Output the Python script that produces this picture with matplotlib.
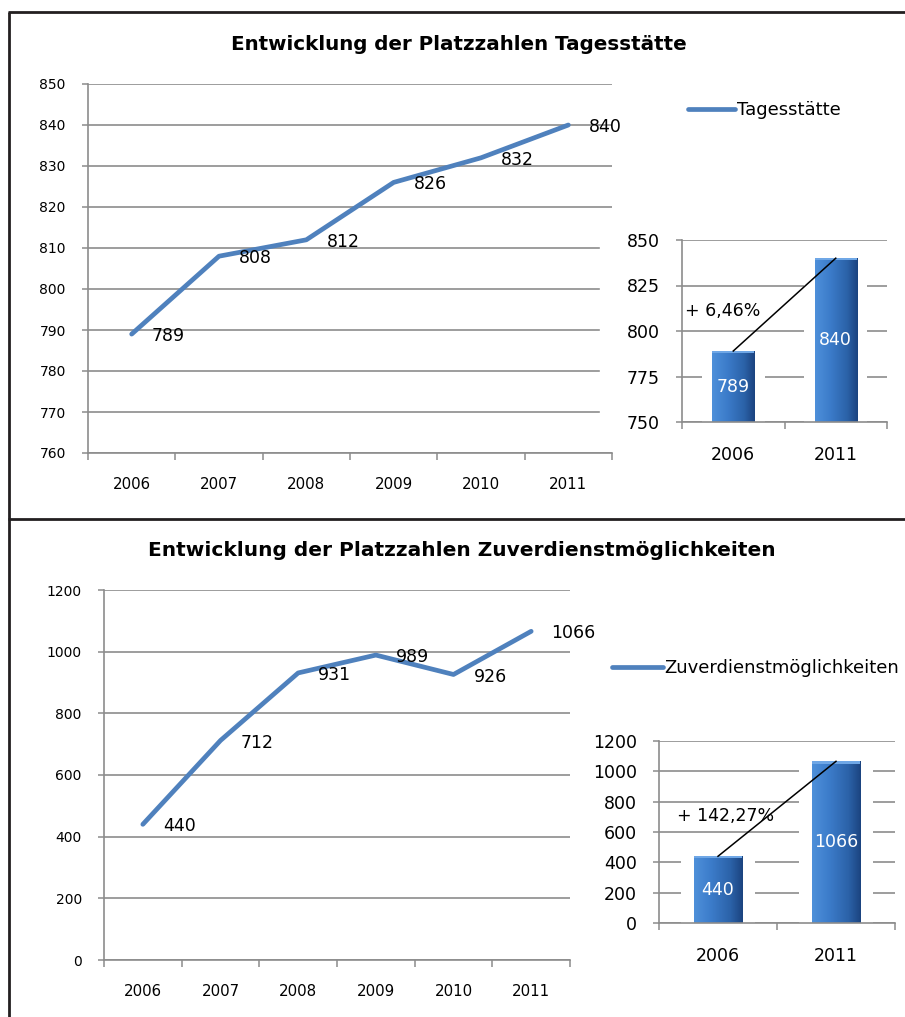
import matplotlib
matplotlib.use("Agg")
import matplotlib.pyplot as plt
import numpy as np
from matplotlib.lines import Line2D
from matplotlib.patches import Rectangle
from matplotlib.colors import LinearSegmentedColormap

# ---------------- data ----------------
years = ["2006", "2007", "2008", "2009", "2010", "2011"]
tages = [789, 808, 812, 826, 832, 840]
zuverdienst = [440, 712, 931, 989, 926, 1066]
bar_years = ["2006", "2011"]
tages_bars = [789, 840]
zuver_bars = [440, 1066]

title_top = "Entwicklung der Platzzahlen Tagesstätte"
title_bottom = "Entwicklung der Platzzahlen Zuverdienstmöglichkeiten"
legend_top = "Tagesstätte"
legend_bottom = "Zuverdienstmöglichkeiten"

W, H = 905, 1017
fig = plt.figure(figsize=(W / 100, H / 100), dpi=100)
plt.rcParams['font.family'] = ['DejaVu Sans']

LINE_C = "#4F81BD"
GRID_C = "#8C8C8C"
bar_cmap = LinearSegmentedColormap.from_list(
    "barg", [(0, "#4E90DA"), (0.35, "#3C7CCA"), (0.75, "#2B62A8"), (1.0, "#1B437F")])


def fax(x0, y_top, x1, y_bot):
    return fig.add_axes([x0 / W, 1 - y_bot / H, (x1 - x0) / W, (y_bot - y_top) / H])


def style_axes(ax, ylo, yhi, step, fs_y, fs_x):
    ax.set_ylim(ylo, yhi)
    ax.set_yticks(np.arange(ylo, yhi + step / 2, step))
    for s in ("top", "right"):
        ax.spines[s].set_visible(False)
    for s in ("left", "bottom"):
        ax.spines[s].set_color(GRID_C)
        ax.spines[s].set_linewidth(1.2)
        ax.spines[s].set_zorder(5)
    ax.yaxis.grid(True, color=GRID_C, linewidth=1.2)
    ax.set_axisbelow(True)
    ax.tick_params(axis="y", length=4, width=1.1, color=GRID_C, pad=12, labelsize=fs_y)
    ax.tick_params(axis="x", which="major", length=0, pad=17, labelsize=fs_x)
    ax.tick_params(axis="x", which="minor", length=5, width=1.1, color=GRID_C)


def line_chart(ax, vals, ylo, yhi, step, legend_label, legend_xy, hlen):
    x = np.arange(len(years))
    ln, = ax.plot(x, vals, color=LINE_C, linewidth=3.4, solid_capstyle="round",
                  solid_joinstyle="round", label=legend_label, zorder=3)
    ax.set_xlim(-0.5, len(years) - 0.5)
    ax.set_xticks(x)
    ax.set_xticklabels(years)
    ax.set_xticks(np.arange(-0.5, len(years), 1.0), minor=True)
    style_axes(ax, ylo, yhi, step, 10, 10.8)
    for xi, v in zip(x, vals):
        ax.annotate(str(v), (xi, v), xytext=(14.5, -1.5), textcoords="offset points",
                    ha="left", va="center", fontsize=12.5, zorder=4,
                    annotation_clip=False)
    fig.legend(handles=[ln], labels=[legend_label], loc="center left",
               bbox_to_anchor=(legend_xy[0] / W, 1 - legend_xy[1] / H),
               frameon=False, borderpad=0, borderaxespad=0, handlelength=hlen,
               handletextpad=0.1, fontsize=13)


def bar_chart(ax, vals, ylo, yhi, step, gap_w):
    x = np.arange(len(bar_years))
    bw = 0.41
    ax.set_xlim(-0.5, len(bar_years) - 0.5)
    ax.set_xticks(x)
    ax.set_xticklabels(bar_years)
    ax.set_xticks(np.arange(-0.5, len(bar_years), 1.0), minor=True)
    style_axes(ax, ylo, yhi, step, 12.5, 12.5)
    # white halo that interrupts gridlines around bars
    ax.bar(x, np.array(vals) - ylo, bottom=ylo, width=bw + gap_w, color="white", zorder=2)
    bars = ax.bar(x, np.array(vals) - ylo, bottom=ylo, width=bw, color="#2F6DB8", zorder=3)
    grad = np.linspace(0, 1, 256).reshape(1, -1)
    for b in bars:
        x0, y0 = b.get_x(), b.get_y()
        im = ax.imshow(grad, cmap=bar_cmap, aspect="auto", zorder=3.5,
                       extent=[x0, x0 + b.get_width(), y0, y0 + b.get_height()])
        im.set_clip_path(b)
        hl = (yhi - ylo) * 0.012
        ax.add_patch(Rectangle((x0, y0 + b.get_height() - hl), b.get_width(), hl,
                               color="#6FA7E6", zorder=3.6, linewidth=0))
    ax.set_xlim(-0.5, len(bar_years) - 0.5)
    ax.set_ylim(ylo, yhi)
    for xi, v in zip(x, vals):
        ax.text(xi, (ylo + v) / 2, str(v), ha="center", va="center", color="white",
                fontsize=12.5, zorder=4)
    ax.plot([x[0], x[-1]], [vals[0], vals[-1]], color="black", linewidth=1.1, zorder=4.5)
    pct = (vals[-1] - vals[0]) / vals[0] * 100
    return "+ " + f"{pct:.2f}".replace(".", ",") + "%"


# ---------------- top panel ----------------
ax1 = fax(88, 84, 612, 453)
line_chart(ax1, tages, 760, 850, 10, legend_top, (688, 110), 2.6)
fig.text(459 / W, 1 - 44 / H, title_top, ha="center", va="center",
         fontsize=14.3, fontweight="bold")

fig.add_artist(Rectangle((600 / W, 1 - 447 / H), 305 / W, 222 / H,
                         transform=fig.transFigure, color="white", zorder=1))
ax2 = fax(682, 240, 887, 422)
ax2.set_zorder(2)
ax2.patch.set_alpha(0)
lab = bar_chart(ax2, tages_bars, 750, 850, 25, 0.2)
ax2.text(0.015, 0.61, lab, transform=ax2.transAxes, ha="left", va="center",
         fontsize=12.5, zorder=6)

# ---------------- bottom panel ----------------
ax3 = fax(104, 590, 570, 960)
line_chart(ax3, zuverdienst, 0, 1200, 200, legend_bottom, (612, 668), 2.8)
fig.text(462 / W, 1 - 551 / H, title_bottom, ha="center", va="center",
         fontsize=14.5, fontweight="bold")

ax4 = fax(659, 741, 895, 923)
lab = bar_chart(ax4, zuver_bars, 0, 1200, 200, 0.22)
ax4.text(0.076, 0.588, lab, transform=ax4.transAxes, ha="left", va="center",
         fontsize=12.5, zorder=6)

# ---------------- panel borders ----------------
BC = "#231F20"
for xs, ys in [((8, 905), (11.5, 11.5)), ((9, 9), (11.5, 1017)), ((8, 905), (519, 519))]:
    fig.add_artist(Line2D([x / W for x in xs], [1 - y / H for y in ys],
                          transform=fig.transFigure, color=BC, linewidth=2.0,
                          solid_capstyle="butt", zorder=10))

fig.savefig("out.png", dpi=100)
